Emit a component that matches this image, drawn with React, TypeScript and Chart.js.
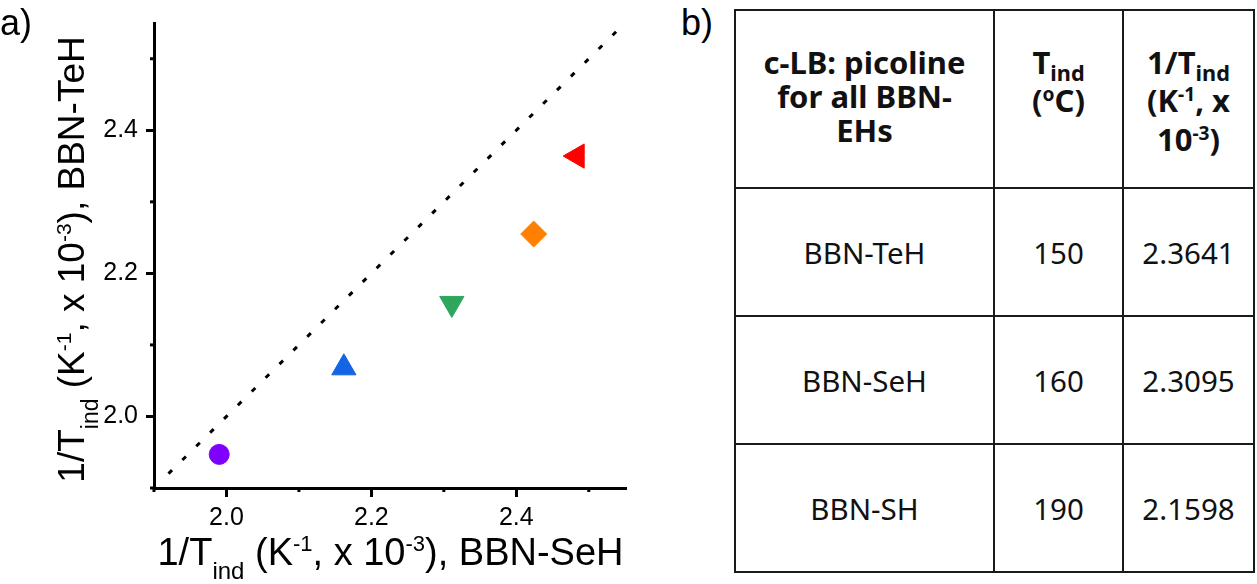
import React, { useEffect, useRef } from 'react';
import { Chart, registerables } from 'chart.js';

Chart.register(...registerables);

// ---- chart data ----
const pointXValues = [1.99, 2.162, 2.311, 2.424, 2.484];
const pointYValues = [1.947, 2.068, 2.158, 2.255, 2.364];
const pointStyles = ['circle', 'triangle', 'triangle', 'rectRot', 'triangle'];
const pointRotations = [0, 0, 180, 0, -90];
const pointColors = ['#7f00ff', '#1464e6', '#2ea65e', '#ff8000', '#ff0000'];
const pointRadii = [10, 14, 14, 13, 14];
const refLineX = [1.92, 2.54];
const refLineY = [1.92, 2.54];
const majorTicks = [2.0, 2.2, 2.4];
const minorTicks = [1.9, 2.1, 2.3, 2.5];
const axisMin = 1.9;
const axisMax = 2.55;

// ---- table data ----
const compounds = ['BBN-TeH', 'BBN-SeH', 'BBN-SH'];
const tIndC = ['150', '160', '190'];
const invTind = ['2.3641', '2.3095', '2.1598'];

type Seg = { t: string; k: 'n' | 'sub' | 'sup' };
const xTitleSegs: Seg[] = [
  { t: '1/T', k: 'n' }, { t: 'ind', k: 'sub' }, { t: ' (K', k: 'n' }, { t: '-1', k: 'sup' },
  { t: ', x 10', k: 'n' }, { t: '-3', k: 'sup' }, { t: '), BBN-SeH', k: 'n' },
];
const yTitleSegs: Seg[] = [
  { t: '1/T', k: 'n' }, { t: 'ind', k: 'sub' }, { t: ' (K', k: 'n' }, { t: '-1', k: 'sup' },
  { t: ', x 10', k: 'n' }, { t: '-3', k: 'sup' }, { t: '), BBN-TeH', k: 'n' },
];

const FONT = '"Liberation Sans", Arial, sans-serif';
const segFont = (k: string, main: number) =>
  k === 'n' ? `${main}px ${FONT}` : k === 'sub' ? `${Math.round(main * 0.62)}px ${FONT}` : `${Math.round(main * 0.58)}px ${FONT}`;
const segOff = (k: string, main: number) => (k === 'n' ? 0 : k === 'sub' ? main * 0.38 : -main * 0.36);

function drawRich(ctx: CanvasRenderingContext2D, segs: Seg[], cx: number, by: number, main: number) {
  let total = 0;
  const widths = segs.map((s) => {
    ctx.font = segFont(s.k, main);
    const w = ctx.measureText(s.t).width;
    total += w;
    return w;
  });
  let x = cx - total / 2;
  ctx.textAlign = 'left';
  ctx.textBaseline = 'alphabetic';
  segs.forEach((s, i) => {
    ctx.font = segFont(s.k, main);
    ctx.fillText(s.t, x, by + segOff(s.k, main));
    x += widths[i];
  });
}

const isMajor = (v: number) => majorTicks.some((m) => Math.abs(m - v) < 1e-6);

const decorPlugin = {
  id: 'decor',
  afterDraw(chart: any) {
    const { ctx, chartArea, scales } = chart;
    const xs = scales.x;
    const ys = scales.y;
    ctx.save();
    ctx.fillStyle = '#000';
    ctx.strokeStyle = '#000';
    // minor ticks
    ctx.lineWidth = 3;
    minorTicks.forEach((v) => {
      const px = xs.getPixelForValue(v);
      ctx.beginPath();
      ctx.moveTo(px, chartArea.bottom);
      ctx.lineTo(px, chartArea.bottom + 4);
      ctx.stroke();
      const py = ys.getPixelForValue(v);
      ctx.beginPath();
      ctx.moveTo(chartArea.left, py);
      ctx.lineTo(chartArea.left - 4, py);
      ctx.stroke();
    });
    // x title
    drawRich(ctx, xTitleSegs, (chartArea.left + chartArea.right) / 2 + 1, 565, 38);
    // y title
    ctx.save();
    ctx.translate(84, (chartArea.top + chartArea.bottom) / 2 + 4);
    ctx.rotate(-Math.PI / 2);
    drawRich(ctx, yTitleSegs, 0, 0, 37);
    ctx.restore();
    // panel label
    ctx.font = `36px ${FONT}`;
    ctx.textAlign = 'left';
    ctx.textBaseline = 'alphabetic';
    ctx.fillText('a)', 0, 35);
    ctx.restore();
  },
};

function ScatterPanel() {
  const ref = useRef<HTMLCanvasElement | null>(null);
  useEffect(() => {
    if (!ref.current) return;
    const points = pointXValues.map((x, i) => ({ x, y: pointYValues[i] }));
    const line = refLineX.map((x, i) => ({ x, y: refLineY[i] }));
    const chart = new Chart(ref.current, {
      type: 'scatter',
      data: {
        datasets: [
          {
            data: line,
            showLine: true,
            borderColor: '#000',
            borderWidth: 3,
            borderDash: [5, 14.5],
            borderCapStyle: 'butt',
            pointRadius: 0,
            fill: false,
          } as any,
          {
            data: points,
            pointStyle: pointStyles as any,
            rotation: pointRotations,
            backgroundColor: pointColors,
            borderColor: pointColors,
            borderWidth: 1,
            pointRadius: pointRadii,
            showLine: false,
          } as any,
        ],
      },
      options: {
        animation: false,
        responsive: false,
        maintainAspectRatio: false,
        events: [],
        layout: { padding: { left: 0, top: 16, right: 14, bottom: 0 } },
        plugins: { legend: { display: false }, tooltip: { enabled: false }, title: { display: false } },
        scales: {
          x: {
            type: 'linear',
            min: axisMin,
            max: axisMax,
            afterFit: (s: any) => { s.height = 96; },
            border: { display: true, color: '#000', width: 3 },
            grid: {
              drawOnChartArea: false,
              drawTicks: true,
              tickLength: 9,
              tickWidth: 3,
              lineWidth: 3,
              tickColor: (c: any) => (c.tick && isMajor(c.tick.value) ? '#000' : 'rgba(0,0,0,0)'),
              color: 'rgba(0,0,0,0)',
            },
            ticks: {
              stepSize: 0.1,
              autoSkip: false,
              maxRotation: 0,
              padding: 6,
              color: '#000',
              font: { family: FONT, size: 25 },
              callback: (v: any) => (isMajor(Number(v)) ? Number(v).toFixed(1) : ''),
            },
          },
          y: {
            type: 'linear',
            min: axisMin,
            max: axisMax,
            afterFit: (s: any) => { s.width = 154; },
            border: { display: true, color: '#000', width: 3 },
            grid: {
              drawOnChartArea: false,
              drawTicks: true,
              tickLength: 8,
              tickWidth: 3,
              lineWidth: 3,
              tickColor: (c: any) => (c.tick && isMajor(c.tick.value) ? '#000' : 'rgba(0,0,0,0)'),
              color: 'rgba(0,0,0,0)',
            },
            ticks: {
              stepSize: 0.1,
              autoSkip: false,
              padding: 8,
              color: '#000',
              font: { family: FONT, size: 25 },
              callback: (v: any) => (isMajor(Number(v)) ? Number(v).toFixed(1) : ''),
            },
          },
        },
      } as any,
      plugins: [decorPlugin],
    });
    return () => chart.destroy();
  }, []);
  return (
    <canvas
      ref={ref}
      width={640}
      height={584}
      style={{ position: 'absolute', left: 0, top: 0, width: 640, height: 584 }}
    />
  );
}

const TFONT = '"Noto Sans", "Open Sans", sans-serif';
const cellBorder = '2.5px solid #1a1a1a';
const subStyle: React.CSSProperties = { fontSize: '0.7em', verticalAlign: 'baseline', position: 'relative', top: '0.3em' };
const supStyle: React.CSSProperties = { fontSize: '0.62em', verticalAlign: 'baseline', position: 'relative', top: '-0.55em' };

function DataTable() {
  const head: React.CSSProperties = {
    border: cellBorder,
    fontWeight: 700,
    fontSize: 31,
    lineHeight: '34px',
    verticalAlign: 'top',
    textAlign: 'center',
    paddingTop: 34,
    paddingLeft: 0,
    paddingRight: 0,
    whiteSpace: 'nowrap',
  };
  const body: React.CSSProperties = {
    border: cellBorder,
    fontWeight: 400,
    fontSize: 29.5,
    verticalAlign: 'middle',
    textAlign: 'center',
    padding: 0,
  };
  return (
    <table
      style={{
        position: 'absolute',
        left: 734,
        top: 9,
        width: 519,
        borderCollapse: 'collapse',
        tableLayout: 'fixed',
        fontFamily: TFONT,
        color: '#111',
      }}
    >
      <colgroup>
        <col style={{ width: 259 }} />
        <col style={{ width: 129 }} />
        <col style={{ width: 131 }} />
      </colgroup>
      <tbody>
        <tr style={{ height: 178 }}>
          <td style={head}>
            c-LB: picoline
            <br />
            for all BBN-
            <br />
            EHs
          </td>
          <td style={head}>
            T<span style={subStyle}>ind</span>
            <br />
            (<span style={supStyle}>o</span>C)
          </td>
          <td style={head}>
            1/T<span style={subStyle}>ind</span>
            <br />
            (K<span style={supStyle}>-1</span>, x
            <br />
            10<span style={supStyle}>-3</span>)
          </td>
        </tr>
        {compounds.map((c, i) => (
          <tr key={c} style={{ height: 128 }}>
            <td style={body}>{c}</td>
            <td style={body}>{tIndC[i]}</td>
            <td style={body}>{invTind[i]}</td>
          </tr>
        ))}
      </tbody>
    </table>
  );
}

export default function App() {
  useEffect(() => {
    document.body.style.margin = '0';
    document.body.style.background = '#fff';
  }, []);
  return (
    <div style={{ position: 'relative', width: 1257, height: 584, background: '#fff', overflow: 'hidden' }}>
      <ScatterPanel />
      <div
        style={{
          position: 'absolute',
          left: 681,
          top: 5,
          fontFamily: FONT,
          fontSize: 36,
          lineHeight: '36px',
          color: '#000',
        }}
      >
        b)
      </div>
      <DataTable />
    </div>
  );
}
